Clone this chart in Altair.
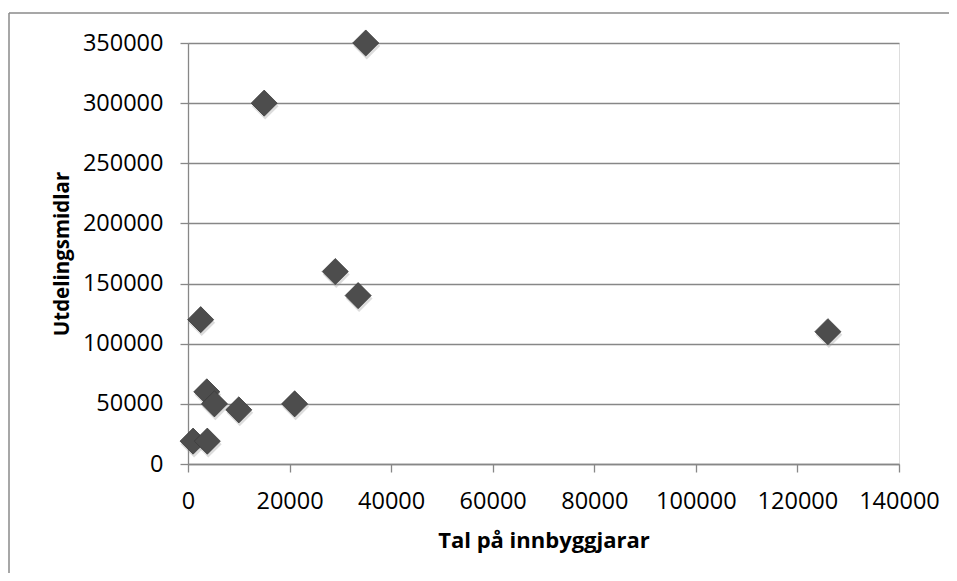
import altair as alt
import pandas as pd

# Data
innbyggjarar = [35000, 15000, 29000, 33500, 2500, 126000, 3700, 5200, 10000, 21000, 1000, 3800]
utdelingsmidlar = [350000, 300000, 160000, 140000, 120000, 110000, 60000, 50000, 45000, 50000, 19000, 19000]
x_ticks = [0, 20000, 40000, 60000, 80000, 100000, 120000, 140000]
y_ticks = [0, 50000, 100000, 150000, 200000, 250000, 300000, 350000]

df = pd.DataFrame({"x": innbyggjarar, "y": utdelingsmidlar})

FONT = "Open Sans"
GRID = "#878787"

xenc = alt.X(
    "x:Q",
    scale=alt.Scale(domain=[0, 140000], nice=False),
    axis=alt.Axis(
        values=x_ticks, format="d", grid=False, title="Tal på innbyggjarar",
        domainColor=GRID, domainWidth=1.3, tickColor=GRID, tickWidth=1.3, tickSize=8,
        labelFontSize=23.5, labelFont=FONT, labelColor="#000000", labelPadding=36,
        labelBaseline="alphabetic", labelFlush=False,
        titleFont=FONT, titleFontSize=22, titleFontWeight="bold", titleColor="#000000",
        titleBaseline="alphabetic", titleY=83, titleX=355.5, titleAlign="center",
    ),
)
yenc = alt.Y(
    "y:Q",
    scale=alt.Scale(domain=[0, 350000], nice=False),
    axis=alt.Axis(
        values=y_ticks, format="d", grid=True, gridColor=GRID, gridWidth=1.3,
        title="Utdelingsmidlar",
        domainColor=GRID, domainWidth=1.3, tickColor=GRID, tickWidth=1.3, tickSize=8,
        labelFontSize=23.5, labelFont=FONT, labelColor="#000000", labelPadding=17,
        labelBaseline="middle", labelFlush=False,
        titleFont=FONT, titleFontSize=20.5, titleFontWeight="bold", titleColor="#000000",
        titleAngle=270, titleBaseline="alphabetic", titleX=-120, titleY=210.5,
        titleAlign="center",
    ),
)

shadow = alt.Chart(df).mark_point(
    shape="diamond", size=720, filled=True, color="#9a9a9a", opacity=0.35, yOffset=3, xOffset=1
).encode(x=xenc, y=yenc)

points = alt.Chart(df).mark_point(
    shape="diamond", size=680, filled=True, color="#4d4d4d", opacity=1,
    stroke="#3c3c3c", strokeWidth=0.8,
).encode(x="x:Q", y="y:Q")

one = pd.DataFrame({"a": [0]})
frame_top = alt.Chart(one).mark_rule(color="#8a8a8a", strokeWidth=1.5).encode(
    x=alt.value(-179), x2=alt.value(780), y=alt.value(-30)
)
frame_left = alt.Chart(one).mark_rule(color="#8a8a8a", strokeWidth=1.5).encode(
    x=alt.value(-179), y=alt.value(-30), y2=alt.value(560)
)

chart = alt.layer(frame_top, frame_left, shadow, points).properties(
    width=711, height=421,
    autosize=alt.AutoSizeParams(type="none"),
    padding={"left": 180, "top": 35, "right": 50, "bottom": 109},
).configure_view(stroke=None).configure(background="white")

chart.save("out.html", embed_options={"renderer": "svg", "actions": False})
